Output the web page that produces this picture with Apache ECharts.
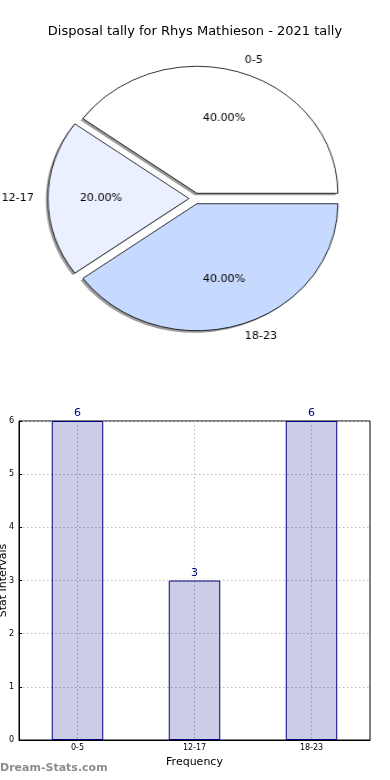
<!DOCTYPE html>
<html><head><meta charset="utf-8">
<script src="https://cdn.jsdelivr.net/npm/echarts@6/dist/echarts.min.js"></script>
<style>
html,body{margin:0;padding:0;background:#fff;}
#main{position:absolute;left:0;top:0;width:390px;height:780px;}
#pie{position:absolute;left:0;top:0;width:390px;height:370px;transform:scaleX(1.11);transform-origin:195px 0;pointer-events:none;}
</style></head><body>
<div id="main"></div><div id="pie"></div>
<script>
const titleText = 'Disposal tally for Rhys Mathieson - 2021 tally';
const categories = ['0-5', '12-17', '18-23'];
const values = [6, 3, 6];
const pieColors = ['#ffffff', '#eaf0ff', '#c6d9ff'];
const yTicks = [0, 1, 2, 3, 4, 5, 6];

const FONT = 'DejaVu Sans';
const total = values.reduce((a, b) => a + b, 0);
const R = 127, CX = 195, CY = 198.5, EXPL = 5.5;
const mids = [];
let acc = 0;
values.forEach(v => { mids.push((acc + v / 2) / total * 360); acc += v; });

const hidden = { color: 'rgba(0,0,0,0)', borderWidth: 0 };
const baseSeries = { type: 'pie', startAngle: 0, clockwise: false, avoidLabelOverlap: false,
  silent: true, animation: false, minAngle: 0, label: { show: false }, labelLine: { show: false } };

const shadowSeries = [], wedgeSeries = [], labelSeries = [];
categories.forEach((cat, i) => {
  const a = mids[i] * Math.PI / 180;
  const center = [CX + EXPL * Math.cos(a), CY - EXPL * Math.sin(a)];
  shadowSeries.push(Object.assign({}, baseSeries, {
    center: [center[0] - 2, center[1] + 2], radius: R,
    data: values.map((v, j) => ({ value: v, name: categories[j],
      itemStyle: j === i ? { color: '#9a9a9a', borderWidth: 0 } : hidden }))
  }));
  wedgeSeries.push(Object.assign({}, baseSeries, {
    center: center, radius: R,
    labelLine: { show: false, length: R * 0.1, length2: 0 },
    data: values.map((v, j) => j === i ? {
      value: v, name: categories[j],
      itemStyle: { color: pieColors[j], borderColor: '#000', borderWidth: 0.8 },
      label: { show: true, position: 'outside', distanceToLabelLine: 0,
        formatter: categories[j], fontSize: 10, fontFamily: FONT, color: '#000' },
      labelLine: { show: false, length: R * 0.1, length2: 0 }
    } : { value: v, name: categories[j], itemStyle: hidden, label: { show: false } })
  }));
  labelSeries.push(Object.assign({}, baseSeries, {
    center: center, radius: R * 1.2,
    data: values.map((v, j) => ({
      value: v, name: categories[j], itemStyle: hidden,
      label: j === i ? { show: true, position: 'inside',
        formatter: (v / total * 100).toFixed(2) + '%', fontSize: 10, fontFamily: FONT, color: '#000' } : { show: false }
    }))
  }));
});

const pieChart = echarts.init(document.getElementById('pie'), null, { renderer: 'canvas' });
pieChart.setOption({ animation: false, series: shadowSeries.concat(wedgeSeries, labelSeries) });

const mainChart = echarts.init(document.getElementById('main'), null, { renderer: 'canvas' });
const dotted = { color: '#b8b8b8', type: [1.5, 2.5], width: 1 };
mainChart.setOption({
  animation: false,
  backgroundColor: '#fff',
  title: { text: titleText, left: 'center', top: 20,
    textStyle: { fontSize: 13, fontWeight: 'normal', color: '#000', fontFamily: FONT } },
  grid: { left: 19, right: 20, top: 421, bottom: 40, containLabel: false, outerBoundsMode: 'none',
    show: true, borderColor: '#000', borderWidth: 1 },
  xAxis: {
    type: 'category', data: categories,
    name: 'Frequency', nameLocation: 'middle', nameGap: 17, nameMoveOverlap: false,
    nameTextStyle: { fontSize: 11, color: '#000', fontFamily: FONT },
    axisLine: { lineStyle: { color: '#000' } },
    axisTick: { show: false },
    axisLabel: { fontSize: 8, color: '#000', margin: 4, fontFamily: FONT },
    splitLine: { show: true, alignWithLabel: true, lineStyle: dotted }
  },
  yAxis: {
    type: 'value', min: yTicks[0], max: yTicks[yTicks.length - 1], interval: 1,
    name: 'Stat Intervals', nameLocation: 'middle', nameGap: 10, nameRotate: 90, nameMoveOverlap: false,
    nameTextStyle: { fontSize: 11, color: '#000', fontFamily: FONT },
    axisLine: { show: true, lineStyle: { color: '#000' } },
    axisTick: { show: true, inside: true, length: 3, lineStyle: { color: '#000' } },
    axisLabel: { fontSize: 8, color: '#000', margin: 5, fontFamily: FONT },
    splitLine: { show: true, lineStyle: dotted }
  },
  series: [{
    type: 'bar', data: values, barWidth: '44%',
    itemStyle: { color: 'rgba(0,0,128,0.2)', borderColor: '#000080', borderWidth: 1 },
    label: { show: true, position: 'top', distance: 2, color: '#000080', fontSize: 11, fontFamily: FONT }
  }],
  graphic: [{
    type: 'text', left: 0, top: 763,
    style: { text: 'Dream-Stats.com', fill: '#8c8c8c', font: 'bold 11px "DejaVu Sans"' }
  }]
});
</script>
</body></html>
